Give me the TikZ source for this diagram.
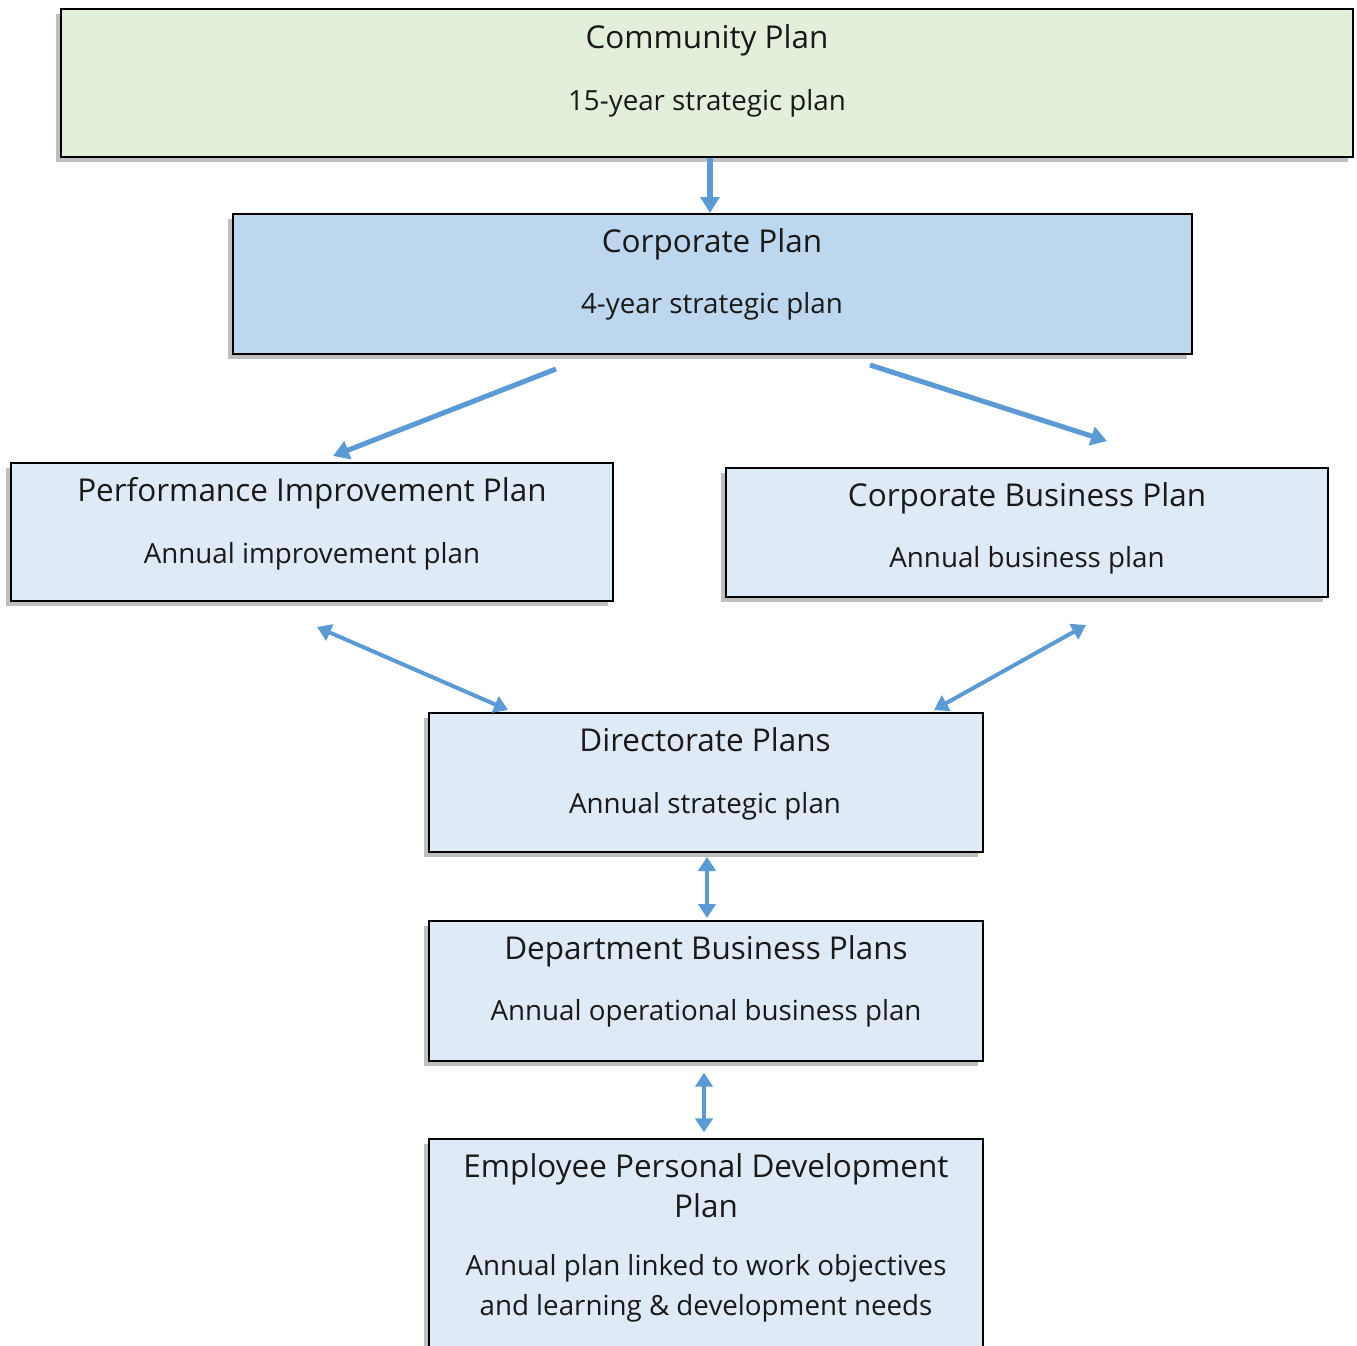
\documentclass[tikz,border=0pt]{standalone}
\usepackage{fontspec}
\setmainfont{Open Sans}
\usetikzlibrary{arrows.meta, shadows, calc}

\definecolor{commGreen}{HTML}{E2EFDA}
\definecolor{corpBlue}{HTML}{BDD7EE}
\definecolor{paleBlue}{HTML}{DEEAF6}
\definecolor{arrowBlue}{HTML}{5B9BD5}

\tikzstyle{planBox} = [draw=black, line width=1.5pt, rectangle, inner sep=0pt,
   drop shadow={shadow xshift=-3.5pt, shadow yshift=-3.5pt, fill=black, opacity=0.25}]
\tikzstyle{titleText} = [anchor=base, inner sep=0pt, align=center, text=black!90,
   font=\fontsize{23.6}{30}\selectfont]
\tikzstyle{subText} = [anchor=base, inner sep=0pt, align=center, text=black!90,
   font=\fontsize{20.8}{30}\selectfont]
\tikzstyle{flowArrow} = [draw=arrowBlue, line width=3.8pt,
   -{Triangle[length=12pt, width=14pt]}]
\tikzstyle{bothArrow} = [draw=arrowBlue, line width=3pt,
   {Triangle[length=10.5pt, width=13pt]}-{Triangle[length=10.5pt, width=13pt]}]

\begin{document}
\begin{tikzpicture}[x=0.75pt, y=-0.75pt]
  \useasboundingbox (0,0) rectangle (1357,1346);

  % boxes
  \node[planBox, fill=commGreen, minimum width=969pt, minimum height=111pt] (comm) at (707,83) {};
  \node[planBox, fill=corpBlue, minimum width=719.25pt, minimum height=105pt] (corp) at (712.5,284) {};
  \node[planBox, fill=paleBlue, minimum width=451.5pt, minimum height=103.5pt] (perf) at (312,532) {};
  \node[planBox, fill=paleBlue, minimum width=451.5pt, minimum height=96.75pt] (cbp) at (1027,532.5) {};
  \node[planBox, fill=paleBlue, minimum width=415.5pt, minimum height=104.25pt] (dir) at (706,782.5) {};
  \node[planBox, fill=paleBlue, minimum width=415.5pt, minimum height=105pt] (dept) at (706,991) {};
  \node[planBox, fill=paleBlue, minimum width=415.5pt, minimum height=196pt] (emp) at (706,1270) {};

  % texts
  \node[titleText] (commT) at (707,48) {Community Plan};
  \node[subText] (commS) at (707,110) {15-year strategic plan};
  \node[titleText] (corpT) at (712,252) {Corporate Plan};
  \node[subText] (corpS) at (712,313) {4-year strategic plan};
  \node[titleText] (perfT) at (312,501) {Performance Improvement Plan};
  \node[subText] (perfS) at (312,563) {Annual improvement plan};
  \node[titleText] (cbpT) at (1027,506) {Corporate Business Plan};
  \node[subText] (cbpS) at (1027,567) {Annual business plan};
  \node[titleText] (dirT) at (705,751) {Directorate Plans};
  \node[subText] (dirS) at (705,813) {Annual strategic plan};
  \node[titleText] (deptT) at (706,959) {Department Business Plans};
  \node[subText] (deptS) at (706,1020) {Annual operational business plan};
  % multi-line: base sits on the last line
  \node[titleText] (empT) at (706,1217) {Employee Personal Development\\Plan};
  \node[subText] (empS) at (706,1315) {Annual plan linked to work objectives\\and learning \& development needs};

  % arrows
  \draw[flowArrow] ($(comm.south)+(3,0)$) -- ($(corp.north)+(-2.5,0)$);
  \draw[flowArrow] ($(corp.south)+(-156.5,14)$) -- ($(perf.north)+(21,-6)$);
  \draw[flowArrow] ($(corp.south)+(157.5,10)$) -- ($(cbp.north)+(80,-26)$);
  \draw[bothArrow] ($(perf.south)+(5,25)$) -- ($(dir.north)+(-198,-2)$);
  \draw[bothArrow] ($(cbp.south)+(59,27)$) -- ($(dir.north)+(228,-2)$);
  \draw[bothArrow, shorten <=3pt, shorten >=1.5pt] ($(dir.south)+(1,0)$) -- ($(dept.north)+(1,0)$);
  \draw[bothArrow, shorten <=8pt, shorten >=4.5pt] ($(dept.south)+(-2,0)$) -- ($(emp.north)+(-2,0)$);
\end{tikzpicture}
\end{document}
